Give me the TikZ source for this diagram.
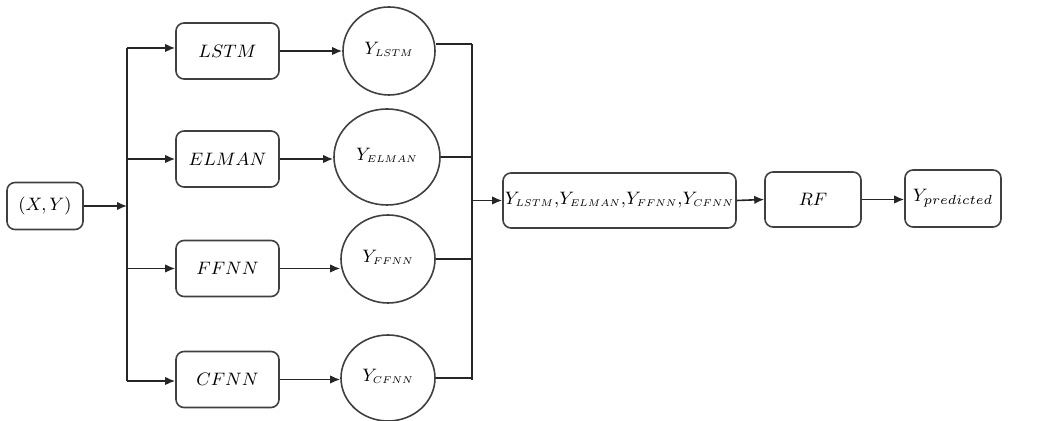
\documentclass[tikz,border=0pt]{standalone}
\usepackage{graphicx}
\usetikzlibrary{shapes.geometric,arrows.meta}
\newcommand\ssub[1]{\scalebox{0.82}{$\scriptstyle #1$}}
\newcommand\bsub[1]{\scalebox{1.1}{$\scriptstyle #1$}}
\begin{document}
\begin{tikzpicture}[x=0.5pt,y=-0.5pt,
  every node/.style={font=\fontsize{8.6}{10}\selectfont},
  box/.style={draw=black!75,line width=0.8pt,rounded corners=4pt,minimum width=51.5pt,minimum height=28pt,inner sep=0pt},
  circ/.style={draw=black!75,line width=0.8pt,ellipse,minimum width=46pt,minimum height=44pt,inner sep=0pt},
  ln/.style={draw=black!85,line width=0.8pt},
  arr/.style={ln,-{Latex[length=5pt,width=4.2pt]}}]
\useasboundingbox (0,0) rectangle (1044,421);
% input
\node[box,minimum width=38pt,minimum height=23.5pt] (xy) at (45,206) {$(X,Y)$};
% models
\node[box] (lstm)  at (227.5,51)    {$LSTM$};
\node[box] (elman) at (227.5,159)   {$ELMAN$};
\node[box] (ffnn)  at (227.5,268.5) {$FFNN$};
\node[box] (cfnn)  at (227.5,379.5) {$CFNN$};
% outputs
\node[circ] (ylstm)  at (389,51)  {\raisebox{3pt}{$Y_{\ssub{LSTM}}$}};
\node[circ,minimum width=53pt,minimum height=48pt] (yelman) at (387,157) {\raisebox{3pt}{$Y_{\ssub{ELMAN}}$}};
\node[circ,minimum width=47pt] (yffnn)  at (388,259) {\raisebox{3pt}{$Y_{\ssub{FFNN}}$}};
\node[circ,minimum width=47pt,minimum height=43pt] (ycfnn)  at (388,378) {\raisebox{3pt}{$Y_{\ssub{CFNN}}$}};
% combination
\node[box,minimum width=116.5pt,minimum height=27.5pt] (comb) at (619.5,200.5) {$Y_{\ssub{LSTM}}{,}Y_{\ssub{ELMAN}}{,}Y_{\ssub{FFNN}}{,}Y_{\ssub{CFNN}}$};
\node[box,minimum width=48pt,minimum height=27.5pt] (rf) at (813,199.5) {$RF$};
\node[box,minimum width=48pt,minimum height=28.5pt] (ypred) at (953,198.5) {\raisebox{2pt}{$Y_{\bsub{predicted}}$}};
% left bus
\coordinate (bt) at (127,48);
\coordinate (bb) at (127,381);
\draw[ln] (bt) -- (bb);
\draw[arr] (xy.east) -- (xy.east -| bt);
\draw[arr] (bt) -- (bt -| lstm.west);
\draw[arr] (bt |- elman.west) -- (elman.west);
\draw[arr] (bt |- ffnn.west) -- (ffnn.west);
\draw[arr] (bb) -- (bb -| cfnn.west);
% model to output
\draw[arr] (lstm.east) -- (lstm.east -| ylstm.west);
\draw[arr] (elman.east) -- (elman.east -| yelman.west);
\draw[arr] (ffnn.east) -- (ffnn.east -| yffnn.west);
\draw[arr] (cfnn.east) -- (cfnn.east -| ycfnn.west);
% right bus
\coordinate (ct) at (472,44);
\coordinate (cb) at (472,380);
\draw[ln] (ct) -- (cb);
\draw[ln] ([yshift=3.5pt]ylstm.east) -- (ct);
\draw[ln] (yelman.east) -- (yelman.east -| ct);
\draw[ln] (yffnn.east) -- (yffnn.east -| ct);
\draw[ln] (ycfnn.east) -- (ycfnn.east -| ct);
\draw[arr] (comb.west -| ct) -- (comb.west);
\draw[arr] (comb.east) -- (rf.west);
\draw[arr] (rf.east) -- (rf.east -| ypred.west);
\end{tikzpicture}
\end{document}
